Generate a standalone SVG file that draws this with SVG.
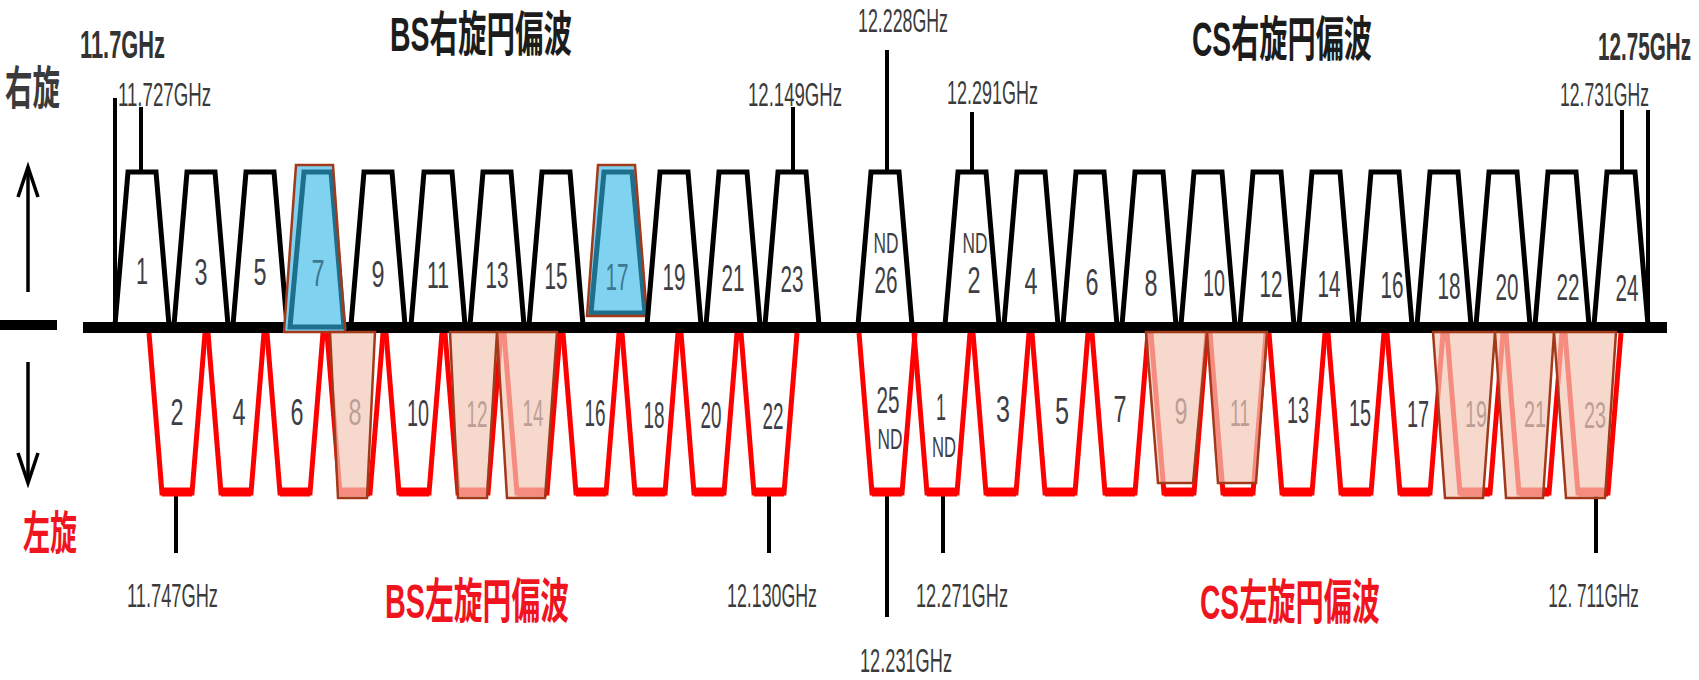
<svg xmlns="http://www.w3.org/2000/svg" width="1699" height="680" viewBox="0 0 1699 680">
<style>
.tt{fill:none;stroke:#000;stroke-width:5;stroke-linejoin:miter}
.rt{fill:none;stroke:#ff0000;stroke-width:5}
.rbar{fill:none;stroke:#ff0000;stroke-width:9}
.num{font-family:"Liberation Sans",Arial,sans-serif;font-size:36px;fill:#3d3e46;text-anchor:middle}
.nd{font-family:"Liberation Sans",Arial,sans-serif;font-size:29px;fill:#3d3e46;text-anchor:middle}
.fq{font-family:"Liberation Sans",Arial,sans-serif;font-size:33px;fill:#3b3b3b}
.fqb{font-family:"Liberation Sans",Arial,sans-serif;font-size:39px;font-weight:bold;fill:#333}
.end{text-anchor:end}
.ttl{font-family:"Liberation Sans","Noto Sans CJK JP",sans-serif;font-size:48px;font-weight:bold;fill:#1c1c1c}
.side{font-family:"Liberation Sans","Noto Sans CJK JP",sans-serif;font-size:46px;font-weight:bold;fill:#3a3a3a}
.red{fill:#f0141e}
.mk{stroke:#000;stroke-width:4;fill:none}
.ax{stroke:#000;fill:none}
.arr{stroke:#000;stroke-width:3.5;fill:none}
.hlbf{fill:#7fd3f1;stroke:none}
.hlo{fill:none;stroke:#a2391a;stroke-width:2.5}
.hlp{fill:#f2c8b6;fill-opacity:0.7;stroke:#a2391a;stroke-width:2.5}
.teal{fill:none;stroke:#1d6f8b;stroke-width:5}
.tnum{fill:#3d7892}
</style>
<defs>
<path id="tp" d="M-27,325 L-14,172 H14 L27,325"/>
<g id="rp"><path class="rt" d="M-28,333 L-15,493 H15 L28,333"/><path class="rbar" d="M-15,492 H15"/></g>
<marker id="ah" viewBox="-32 -12 36 24" refX="0" refY="0" markerWidth="36" markerHeight="24" orient="auto" markerUnits="userSpaceOnUse" overflow="visible"><path d="M-30,-10 L0,0 L-30,10" fill="none" stroke="#000" stroke-width="3.5"/></marker>
</defs>
<rect x="0" y="0" width="1699" height="680" fill="#fff"/>

<g id="connectors">
<line class="ax" x1="0" y1="325" x2="57" y2="325" stroke-width="10"/>
<line class="ax" x1="83" y1="327.5" x2="1667" y2="327.5" stroke-width="11"/>
<line class="arr" x1="28" y1="292" x2="28" y2="167" marker-end="url(#ah)"/>
<line class="arr" x1="28" y1="362" x2="28" y2="483" marker-end="url(#ah)"/>
<line class="mk" x1="115" y1="98" x2="115" y2="325"/>
<line class="mk" x1="141" y1="107" x2="141" y2="172"/>
<line class="mk" x1="793" y1="107" x2="793" y2="172"/>
<line class="mk" x1="887" y1="50" x2="887" y2="172"/>
<line class="mk" x1="972" y1="112" x2="972" y2="172"/>
<line class="mk" x1="1622" y1="110" x2="1622" y2="172"/>
<line class="mk" x1="1648" y1="110" x2="1648" y2="325"/>
<line class="mk" x1="176" y1="495" x2="176" y2="553"/>
<line class="mk" x1="769" y1="495" x2="769" y2="553"/>
<line class="mk" x1="887" y1="495" x2="887" y2="617"/>
<line class="mk" x1="943" y1="495" x2="943" y2="553"/>
<line class="mk" x1="1596" y1="495" x2="1596" y2="553"/>
</g>

<g id="labels">
<text class="ttl" x="390" y="51" textLength="182" lengthAdjust="spacingAndGlyphs">BS右旋円偏波</text>
<text class="ttl" x="1192" y="56" textLength="180" lengthAdjust="spacingAndGlyphs">CS右旋円偏波</text>
<text class="ttl red" x="385" y="618" textLength="184" lengthAdjust="spacingAndGlyphs">BS左旋円偏波</text>
<text class="ttl red" x="1200" y="619" textLength="180" lengthAdjust="spacingAndGlyphs">CS左旋円偏波</text>
<text class="side" x="5" y="104" textLength="55" lengthAdjust="spacingAndGlyphs">右旋</text>
<text class="side red" x="23" y="549" textLength="54" lengthAdjust="spacingAndGlyphs">左旋</text>
<text class="fqb" x="80" y="58" textLength="85" lengthAdjust="spacingAndGlyphs">11.7GHz</text>
<text class="fqb end" transform="translate(1691,60) scale(0.53,1)">12.75GHz</text>
<text class="fq" x="118" y="106" textLength="93" lengthAdjust="spacingAndGlyphs">11.727GHz</text>
<text class="fq" x="748" y="106" textLength="94" lengthAdjust="spacingAndGlyphs">12.149GHz</text>
<text class="fq" x="858" y="32" textLength="90" lengthAdjust="spacingAndGlyphs">12.228GHz</text>
<text class="fq" x="947" y="104" textLength="91" lengthAdjust="spacingAndGlyphs">12.291GHz</text>
<text class="fq end" transform="translate(1649,106) scale(0.533,1)">12.731GHz</text>
<text class="fq" x="127" y="607" textLength="91" lengthAdjust="spacingAndGlyphs">11.747GHz</text>
<text class="fq" x="727" y="607" textLength="90" lengthAdjust="spacingAndGlyphs">12.130GHz</text>
<text class="fq" x="860" y="672" textLength="92" lengthAdjust="spacingAndGlyphs">12.231GHz</text>
<text class="fq" x="916" y="607" textLength="92" lengthAdjust="spacingAndGlyphs">12.271GHz</text>
<text class="fq end" transform="translate(1639,607) scale(0.523,1)">12. 711GHz</text>
</g>

<g id="bs-right">
<g id="bsr1"><use href="#tp" x="142" class="tt"/><text class="num" x="142" y="284" textLength="12" lengthAdjust="spacingAndGlyphs">1</text></g>
<g id="bsr3"><use href="#tp" x="201" class="tt"/><text class="num" x="201" y="285" textLength="13" lengthAdjust="spacingAndGlyphs">3</text></g>
<g id="bsr5"><use href="#tp" x="260" class="tt"/><text class="num" x="260" y="285" textLength="13" lengthAdjust="spacingAndGlyphs">5</text></g>
<g id="bsr7"><polygon class="hlbf" points="296,165 333,165 345,332 284,332"/><path class="teal" d="M290,327 L304,172 H331 L344,327 Z"/><text class="num tnum" x="318" y="286" textLength="13" lengthAdjust="spacingAndGlyphs">7</text><polygon class="hlo" points="296,165 333,165 345,332 284,332"/></g>
<g id="bsr9"><use href="#tp" x="378" class="tt"/><text class="num" x="378" y="287" textLength="13" lengthAdjust="spacingAndGlyphs">9</text></g>
<g id="bsr11"><use href="#tp" x="438" class="tt"/><text class="num" x="438" y="288" textLength="22" lengthAdjust="spacingAndGlyphs">11</text></g>
<g id="bsr13"><use href="#tp" x="497" class="tt"/><text class="num" x="497" y="288" textLength="23" lengthAdjust="spacingAndGlyphs">13</text></g>
<g id="bsr15"><use href="#tp" x="556" class="tt"/><text class="num" x="556" y="289" textLength="23" lengthAdjust="spacingAndGlyphs">15</text></g>
<g id="bsr17"><polygon class="hlbf" points="598,165 635,165 647,316 587,316"/><path class="teal" d="M591,313 L604,172 H632 L645,313 Z"/><text class="num tnum" x="617" y="290" textLength="23" lengthAdjust="spacingAndGlyphs">17</text><polygon class="hlo" points="598,165 635,165 647,316 587,316"/></g>
<g id="bsr19"><use href="#tp" x="674" class="tt"/><text class="num" x="674" y="290" textLength="23" lengthAdjust="spacingAndGlyphs">19</text></g>
<g id="bsr21"><use href="#tp" x="733" class="tt"/><text class="num" x="733" y="291" textLength="23" lengthAdjust="spacingAndGlyphs">21</text></g>
<g id="bsr23"><use href="#tp" x="792" class="tt"/><text class="num" x="792" y="292" textLength="23" lengthAdjust="spacingAndGlyphs">23</text></g>
</g>

<g id="cs-right">
<g id="csr26"><use href="#tp" x="885" class="tt"/><text class="nd" x="886" y="253" textLength="25" lengthAdjust="spacingAndGlyphs">ND</text><text class="num" x="886" y="293" textLength="23" lengthAdjust="spacingAndGlyphs">26</text></g>
<g id="csr2"><use href="#tp" x="972" class="tt"/><text class="nd" x="975" y="253" textLength="25" lengthAdjust="spacingAndGlyphs">ND</text><text class="num" x="974" y="293" textLength="13" lengthAdjust="spacingAndGlyphs">2</text></g>
<g id="csr4"><use href="#tp" x="1031" class="tt"/><text class="num" x="1031" y="294" textLength="13" lengthAdjust="spacingAndGlyphs">4</text></g>
<g id="csr6"><use href="#tp" x="1090" class="tt"/><text class="num" x="1092" y="295" textLength="13" lengthAdjust="spacingAndGlyphs">6</text></g>
<g id="csr8"><use href="#tp" x="1149" class="tt"/><text class="num" x="1151" y="296" textLength="13" lengthAdjust="spacingAndGlyphs">8</text></g>
<g id="csr10"><use href="#tp" x="1208" class="tt"/><text class="num" x="1214" y="296" textLength="22" lengthAdjust="spacingAndGlyphs">10</text></g>
<g id="csr12"><use href="#tp" x="1267" class="tt"/><text class="num" x="1271" y="297" textLength="23" lengthAdjust="spacingAndGlyphs">12</text></g>
<g id="csr14"><use href="#tp" x="1326" class="tt"/><text class="num" x="1329" y="297" textLength="23" lengthAdjust="spacingAndGlyphs">14</text></g>
<g id="csr16"><use href="#tp" x="1385" class="tt"/><text class="num" x="1392" y="298" textLength="23" lengthAdjust="spacingAndGlyphs">16</text></g>
<g id="csr18"><use href="#tp" x="1444" class="tt"/><text class="num" x="1449" y="299" textLength="23" lengthAdjust="spacingAndGlyphs">18</text></g>
<g id="csr20"><use href="#tp" x="1503" class="tt"/><text class="num" x="1507" y="300" textLength="23" lengthAdjust="spacingAndGlyphs">20</text></g>
<g id="csr22"><use href="#tp" x="1562" class="tt"/><text class="num" x="1568" y="300" textLength="23" lengthAdjust="spacingAndGlyphs">22</text></g>
<g id="csr24"><use href="#tp" x="1621" class="tt"/><text class="num" x="1627" y="301" textLength="23" lengthAdjust="spacingAndGlyphs">24</text></g>
</g>

<g id="bs-left">
<g id="bsl2"><use href="#rp" x="177"/><text class="num" x="177" y="425" textLength="13" lengthAdjust="spacingAndGlyphs">2</text></g>
<g id="bsl4"><use href="#rp" x="236"/><text class="num" x="239" y="425" textLength="13" lengthAdjust="spacingAndGlyphs">4</text></g>
<g id="bsl6"><use href="#rp" x="295"/><text class="num" x="297" y="425" textLength="13" lengthAdjust="spacingAndGlyphs">6</text></g>
<g id="bsl8"><use href="#rp" x="355"/><text class="num" x="355" y="425" textLength="13" lengthAdjust="spacingAndGlyphs">8</text></g>
<g id="bsl10"><use href="#rp" x="414"/><text class="num" x="418" y="426" textLength="22" lengthAdjust="spacingAndGlyphs">10</text></g>
<g id="bsl12"><use href="#rp" x="473"/><text class="num" x="477" y="427" textLength="21" lengthAdjust="spacingAndGlyphs">12</text></g>
<g id="bsl14"><use href="#rp" x="532"/><text class="num" x="533" y="426" textLength="21" lengthAdjust="spacingAndGlyphs">14</text></g>
<g id="bsl16"><use href="#rp" x="591"/><text class="num" x="595" y="426" textLength="21" lengthAdjust="spacingAndGlyphs">16</text></g>
<g id="bsl18"><use href="#rp" x="650"/><text class="num" x="654" y="428" textLength="21" lengthAdjust="spacingAndGlyphs">18</text></g>
<g id="bsl20"><use href="#rp" x="709"/><text class="num" x="711" y="428" textLength="21" lengthAdjust="spacingAndGlyphs">20</text></g>
<g id="bsl22"><use href="#rp" x="769"/><text class="num" x="773" y="429" textLength="21" lengthAdjust="spacingAndGlyphs">22</text></g>
</g>

<g id="cs-left">
<g id="csl25"><use href="#rp" x="887"/><text class="num" x="888" y="413" textLength="23" lengthAdjust="spacingAndGlyphs">25</text><text class="nd" x="890" y="449" textLength="25" lengthAdjust="spacingAndGlyphs">ND</text></g>
<g id="csl1"><use href="#rp" x="942"/><text class="num" x="941" y="420" textLength="10" lengthAdjust="spacingAndGlyphs">1</text><text class="nd" x="944" y="457" textLength="24" lengthAdjust="spacingAndGlyphs">ND</text></g>
<g id="csl3"><use href="#rp" x="1001"/><text class="num" x="1003" y="422" textLength="14" lengthAdjust="spacingAndGlyphs">3</text></g>
<g id="csl5"><use href="#rp" x="1060"/><text class="num" x="1062" y="424" textLength="14" lengthAdjust="spacingAndGlyphs">5</text></g>
<g id="csl7"><use href="#rp" x="1120"/><text class="num" x="1120" y="422" textLength="13" lengthAdjust="spacingAndGlyphs">7</text></g>
<g id="csl9"><use href="#rp" x="1179"/><text class="num" x="1181" y="424" textLength="13" lengthAdjust="spacingAndGlyphs">9</text></g>
<g id="csl11"><use href="#rp" x="1238"/><text class="num" x="1240" y="426" textLength="20" lengthAdjust="spacingAndGlyphs">11</text></g>
<g id="csl13"><use href="#rp" x="1297"/><text class="num" x="1298" y="423" textLength="22" lengthAdjust="spacingAndGlyphs">13</text></g>
<g id="csl15"><use href="#rp" x="1356"/><text class="num" x="1360" y="426" textLength="22" lengthAdjust="spacingAndGlyphs">15</text></g>
<g id="csl17"><use href="#rp" x="1415"/><text class="num" x="1418" y="427" textLength="22" lengthAdjust="spacingAndGlyphs">17</text></g>
<g id="csl19"><use href="#rp" x="1475"/><text class="num" x="1476" y="427" textLength="22" lengthAdjust="spacingAndGlyphs">19</text></g>
<g id="csl21"><use href="#rp" x="1534"/><text class="num" x="1535" y="427" textLength="22" lengthAdjust="spacingAndGlyphs">21</text></g>
<g id="csl23"><use href="#rp" x="1593"/><text class="num" x="1595" y="428" textLength="22" lengthAdjust="spacingAndGlyphs">23</text></g>
</g>

<g id="highlights">
<polygon class="hlp" points="330,332 375,332 367,498 338,498"/>
<polygon class="hlp" points="450,332 497,332 487,498 458,498"/>
<polygon class="hlp" points="497,332 557,332 545,498 507,498"/>
<polygon class="hlp" points="1146,332 1207,332 1193,483 1158,483"/>
<polygon class="hlp" points="1207,332 1267,332 1256,483 1218,483"/>
<polygon class="hlp" points="1433,332 1495,332 1483,498 1445,498"/>
<polygon class="hlp" points="1495,332 1554,332 1543,498 1506,498"/>
<polygon class="hlp" points="1554,332 1616,332 1605,498 1566,498"/>
</g>
</svg>
